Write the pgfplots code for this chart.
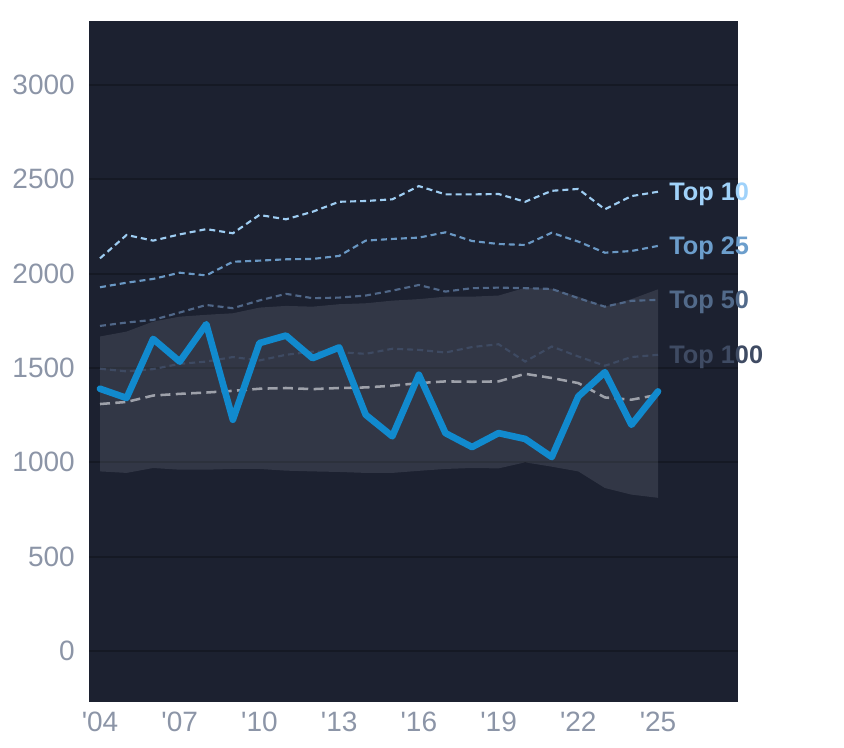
\documentclass[border=0pt]{standalone}
\usepackage{pgfplots}
\pgfplotsset{compat=1.18}
\usepackage{pgfplotstable}
\usepgfplotslibrary{fillbetween}
\usepackage{fontspec}
\setmainfont{Liberation Sans}
\definecolor{bgc}{RGB}{28,33,48}
\definecolor{gridc}{RGB}{21,25,36}
\definecolor{bandc}{RGB}{140,145,160}
\definecolor{bluec}{RGB}{17,138,206}
\definecolor{t10}{RGB}{158,205,242}
\definecolor{t25}{RGB}{106,152,196}
\definecolor{t50}{RGB}{80,103,136}
\definecolor{t100}{RGB}{62,74,98}
\definecolor{medc}{RGB}{158,161,170}
\definecolor{tickc}{RGB}{140,149,167}
\definecolor{l10}{RGB}{160,210,250}
\definecolor{l25}{RGB}{108,158,204}
\definecolor{l50}{RGB}{82,106,138}
\definecolor{l100}{RGB}{63,75,99}
\pgfplotstableread{
year blue top10 top25 top50 top100 med btop bbot
2004 1390 2081 1928 1723 1496 1309 1667 952
2005 1341 2205 1952 1741 1482 1320 1693 944
2006 1654 2175 1972 1755 1494 1354 1746 970
2007 1534 2208 2005 1794 1522 1363 1772 961
2008 1732 2236 1991 1834 1534 1370 1782 961
2009 1226 2214 2063 1817 1558 1379 1790 965
2010 1632 2311 2069 1858 1540 1390 1820 965
2011 1672 2288 2076 1893 1570 1394 1829 956
2012 1552 2328 2078 1870 1587 1388 1825 952
2013 1609 2381 2094 1873 1584 1394 1838 949
2014 1252 2385 2175 1884 1575 1397 1843 944
2015 1138 2394 2184 1910 1602 1406 1857 944
2016 1464 2464 2191 1940 1596 1420 1865 955
2017 1155 2420 2219 1905 1582 1429 1878 965
2018 1081 2420 2173 1923 1611 1427 1878 970
2019 1155 2422 2157 1926 1626 1429 1884 968
2020 1124 2381 2152 1923 1534 1469 1925 1000
2021 1028 2439 2217 1919 1614 1447 1920 977
2022 1349 2449 2170 1870 1561 1420 1878 952
2023 1478 2341 2111 1825 1512 1344 1825 864
2024 1199 2411 2120 1856 1558 1332 1865 829
2025 1376 2434 2147 1861 1570 1358 1917 812
}\data
\begin{document}
\begin{tikzpicture}
\path (0,0) rectangle (633pt,561pt);
\begin{axis}[
  at={(66.75pt,34.5pt)}, anchor=south west,
  scale only axis, width=486.75pt, height=510.75pt,
  xmin=2003.586, xmax=2028.01, ymin=-270, ymax=3339,
  axis background/.style={fill=bgc},
  axis line style={draw=none},
  tick style={draw=none},
  ytick={0,500,1000,1500,2000,2500,3000},
  xtick={2004,2007,2010,2013,2016,2019,2022,2025},
  xticklabels={\textquotesingle04,\textquotesingle07,\textquotesingle10,\textquotesingle13,\textquotesingle16,\textquotesingle19,\textquotesingle22,\textquotesingle25},
  scaled y ticks=false,
  yticklabel style={/pgf/number format/1000 sep={}, /pgf/number format/assume math mode=true, inner sep=0pt, xshift=-10.5pt, text=tickc, font=\fontsize{21}{24}\selectfont},
  xticklabel style={inner sep=0pt, yshift=-7.5pt, text=tickc, font=\fontsize{21}{24}\selectfont},
  ymajorgrids=true,
  major grid style={draw=gridc, line width=1.5pt},
  clip=false,
]
\addplot[name path=A, draw=none, forget plot] table[x=year,y=btop]{\data};
\addplot[name path=B, draw=none, forget plot] table[x=year,y=bbot]{\data};
\addplot[fill=bandc, fill opacity=0.2, draw=none] fill between[of=A and B];
\addplot[t10, line width=1.6pt, dash pattern=on 4.5pt off 3pt] table[x=year,y=top10]{\data};
\addplot[t25, line width=1.6pt, dash pattern=on 4.5pt off 3pt] table[x=year,y=top25]{\data};
\addplot[t50, line width=1.6pt, dash pattern=on 4.5pt off 3pt] table[x=year,y=top50]{\data};
\addplot[t100, line width=1.6pt, dash pattern=on 4.5pt off 3pt] table[x=year,y=top100]{\data};
\addplot[medc, line width=1.9pt, dash pattern=on 7.5pt off 4pt] table[x=year,y=med]{\data};
\addplot[bluec, line width=5pt, line join=round, line cap=round] table[x=year,y=blue]{\data};
\node[anchor=base west, inner sep=0pt, xshift=8.25pt, yshift=-6.8pt, text=l10, font=\bfseries\fontsize{19}{22}\selectfont] at (axis cs:2025,2434) {Top 10};
\node[anchor=base west, inner sep=0pt, xshift=8.25pt, yshift=-6.8pt, text=l25, font=\bfseries\fontsize{19}{22}\selectfont] at (axis cs:2025,2147) {Top 25};
\node[anchor=base west, inner sep=0pt, xshift=8.25pt, yshift=-6.8pt, text=l50, font=\bfseries\fontsize{19}{22}\selectfont] at (axis cs:2025,1861) {Top 50};
\node[anchor=base west, inner sep=0pt, xshift=8.25pt, yshift=-6.8pt, text=l100, font=\bfseries\fontsize{19}{22}\selectfont] at (axis cs:2025,1570) {Top 100};
\end{axis}
\end{tikzpicture}
\end{document}
